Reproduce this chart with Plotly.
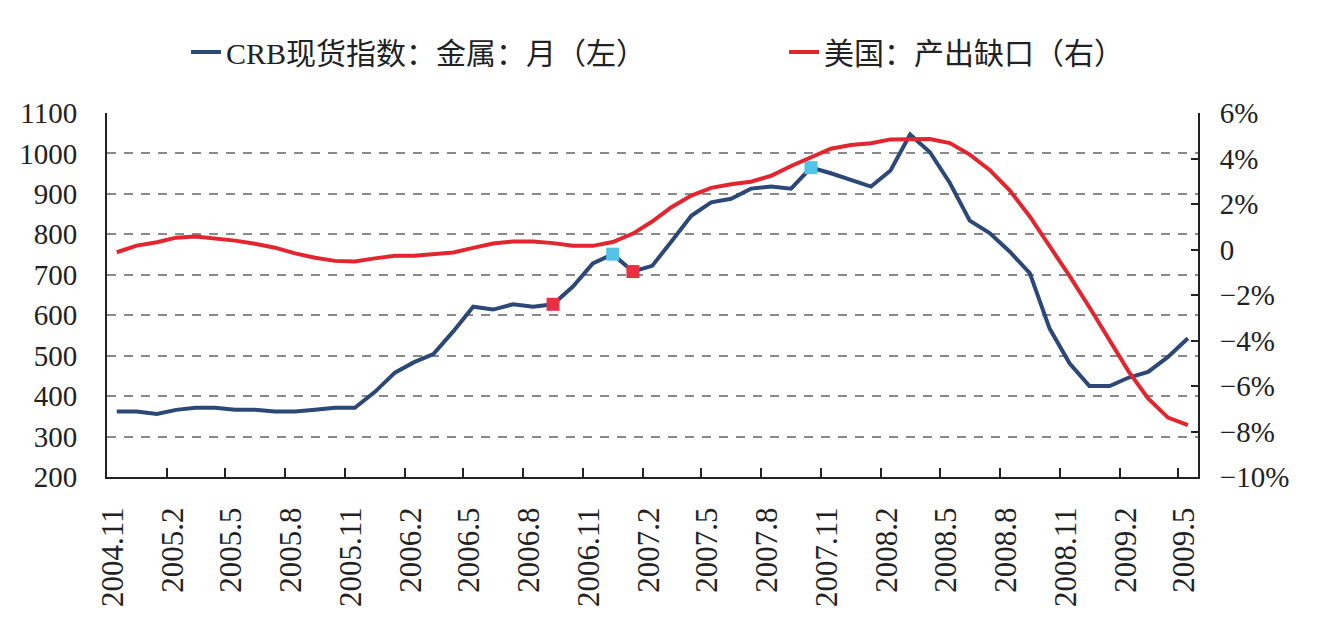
import plotly.graph_objects as go
import pandas as pd

# Monthly data, 2004.11 - 2009.5
months = pd.date_range("2004-11-01", "2009-05-01", freq="MS")

crb_metals = [362, 362, 356, 366, 371, 371, 366, 366, 362, 362, 366, 371, 371,
              410, 458, 484, 504, 560, 621, 614, 627, 621, 627, 671, 728, 751,
              708, 722, 782, 846, 879, 888, 913, 918, 913, 965, 951, 935, 918,
              958, 1047, 1003, 927, 834, 803, 757, 704, 567, 481, 425, 425, 446,
              460, 497, 543]

us_output_gap = [-0.12, 0.17, 0.32, 0.52, 0.57, 0.48, 0.39, 0.25, 0.08, -0.17,
                 -0.36, -0.50, -0.53, -0.39, -0.28, -0.27, -0.21, -0.13, 0.07,
                 0.26, 0.35, 0.35, 0.28, 0.17, 0.16, 0.33, 0.70, 1.23, 1.86,
                 2.37, 2.71, 2.87, 2.98, 3.24, 3.67, 4.05, 4.43, 4.59, 4.67,
                 4.84, 4.86, 4.86, 4.68, 4.17, 3.50, 2.59, 1.45, 0.16, -1.16,
                 -2.54, -3.98, -5.38, -6.55, -7.39, -7.72]

red_marker_months = ["2006-09-01", "2007-01-01"]
cyan_marker_months = ["2006-12-01", "2007-10-01"]

x_tick_dates = pd.date_range("2004-11-01", "2009-05-01", freq="3MS")
x_tick_text = [f"{d.year}.{d.month}" for d in x_tick_dates]

left_ticks = list(range(200, 1101, 100))
right_ticks = [-10, -8, -6, -4, -2, 0, 2, 4, 6]
right_tick_text = ["\u221210%", "\u22128%", "\u22126%", "\u22124%", "\u22122%", "0", "2%", "4%", "6%"]

NAVY = "#2C4876"
RED = "#E1262F"
MRED = "#E83040"
CYAN = "#55C2E8"
FONT = "Liberation Serif, Noto Sans CJK SC, serif"

crb_by_month = dict(zip(months, crb_metals))

fig = go.Figure()
fig.add_trace(go.Scatter(
    x=months, y=crb_metals, name="CRB现货指数：金属：月（左）",
    mode="lines", line=dict(color=NAVY, width=4),
    xperiod="M1", xperiodalignment="middle", yaxis="y", legend="legend"))
fig.add_trace(go.Scatter(
    x=months, y=us_output_gap, name="美国：产出缺口（右）",
    mode="lines", line=dict(color=RED, width=4),
    xperiod="M1", xperiodalignment="middle", yaxis="y2", legend="legend2"))
fig.add_trace(go.Scatter(
    x=pd.to_datetime(red_marker_months),
    y=[crb_by_month[pd.Timestamp(m)] for m in red_marker_months],
    mode="markers", marker=dict(symbol="square", size=13, color=MRED),
    xperiod="M1", xperiodalignment="middle", showlegend=False, yaxis="y"))
fig.add_trace(go.Scatter(
    x=pd.to_datetime(cyan_marker_months),
    y=[crb_by_month[pd.Timestamp(m)] for m in cyan_marker_months],
    mode="markers", marker=dict(symbol="square", size=13, color=CYAN),
    xperiod="M1", xperiodalignment="middle", showlegend=False, yaxis="y"))

legend_common = dict(orientation="h", xref="container", yref="container",
                     xanchor="left", yanchor="middle",
                     font=dict(size=30, family=FONT, color="#222"),
                     bgcolor="rgba(0,0,0,0)")

fig.update_layout(
    width=1321, height=618,
    margin=dict(l=107, r=123, t=113, b=141, autoexpand=False),
    paper_bgcolor="white", plot_bgcolor="white",
    font=dict(family=FONT, size=29, color="#222"),
    showlegend=True,
    legend=dict(x=186 / 1321, y=1 - 52 / 618, **legend_common),
    legend2=dict(x=784 / 1321, y=1 - 52 / 618, **legend_common),
    xaxis=dict(
        type="date", range=["2004-11-01", "2009-06-01"],
        tickmode="array", tickvals=x_tick_dates, ticktext=x_tick_text,
        tickangle=-90, showgrid=False, zeroline=False,
        showline=True, linecolor="#222", linewidth=2,
        ticks="inside", ticklen=9, tickwidth=2, tickcolor="#222",
        ticklabelstandoff=16, ticklabelshift=6,
        tickfont=dict(size=31, family=FONT, color="#222")),
    yaxis=dict(
        range=[200, 1100], tickmode="array", tickvals=left_ticks,
        showgrid=True, gridcolor="#8a8a8a", gridwidth=1.5, griddash="9px,8px",
        zeroline=False, showline=True, linecolor="#222", linewidth=2,
        ticks="", ticklabelstandoff=22,
        tickfont=dict(size=29, family=FONT, color="#222")),
    yaxis2=dict(
        range=[-10, 6], overlaying="y", side="right",
        tickmode="array", tickvals=right_ticks, ticktext=right_tick_text,
        showgrid=False, zeroline=False, showline=True, linecolor="#222", linewidth=2,
        ticks="inside", ticklen=7, tickwidth=2, tickcolor="#222",
        ticklabelstandoff=14,
        tickfont=dict(size=29, family=FONT, color="#222")),
)

fig.write_html("out.html")
